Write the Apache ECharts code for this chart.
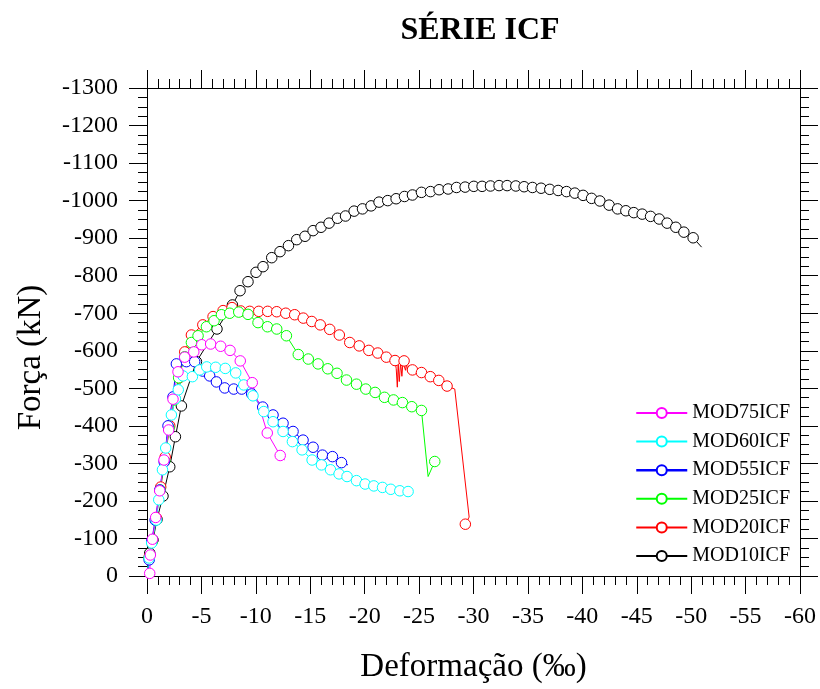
<!DOCTYPE html>
<html>
<head>
<meta charset="utf-8">
<script src="https://cdn.jsdelivr.net/npm/echarts@6/dist/echarts.min.js"></script>
<style>
  html, body { margin: 0; padding: 0; background: #fff; }
  #chart { width: 820px; height: 689px; }
</style>
</head>
<body>
<div id="chart"></div>
<script>
// Deformação (‰) x Força (kN) — pares [deformação, força]
const mod10icf = [[0,0],[-0.25,-61],[-0.55,-96],[-0.92,-151],[-1.47,-213],[-2.09,-291],[-2.61,-371],[-3.16,-453],[-4.54,-571],[-6.43,-658],[-7.85,-722],[-8.55,-760],[-9.28,-784],[-10.02,-809],[-10.66,-824],[-11.46,-848],[-12.22,-864],[-13.0,-880],[-13.76,-896],[-14.52,-905],[-15.26,-920],[-15.99,-929],[-16.73,-940],[-17.5,-953],[-18.24,-959],[-19.03,-972],[-19.8,-978],[-20.59,-986],[-21.32,-996],[-22.12,-1000],[-22.89,-1005],[-23.66,-1011],[-24.39,-1015],[-25.22,-1022],[-26.05,-1024],[-26.84,-1029],[-27.67,-1031],[-28.44,-1035],[-29.23,-1036],[-30.03,-1038],[-30.79,-1038],[-31.56,-1039],[-32.35,-1040],[-33.09,-1040],[-33.89,-1039],[-34.65,-1037],[-35.42,-1035],[-36.21,-1033],[-37.01,-1030],[-37.78,-1027],[-38.55,-1024],[-39.31,-1020],[-40.07,-1014],[-40.85,-1006],[-41.61,-999],[-42.46,-988],[-43.24,-978],[-44.0,-973],[-44.73,-968],[-45.5,-964],[-46.27,-958],[-47.06,-951],[-47.79,-940],[-48.59,-929],[-49.33,-916],[-50.18,-901],[-50.96,-876]];

const mod20icf = [[0,0],[-0.2,-51],[-0.48,-93],[-0.85,-155],[-1.26,-237],[-1.67,-317],[-2.09,-400],[-2.55,-474],[-2.96,-528],[-3.47,-597],[-4.08,-642],[-5.13,-669],[-6.07,-691],[-6.99,-707],[-7.81,-715],[-8.61,-706],[-9.44,-705],[-10.27,-705],[-11.09,-705],[-11.92,-704],[-12.75,-700],[-13.57,-696],[-14.36,-687],[-15.14,-678],[-15.92,-669],[-16.79,-657],[-17.67,-642],[-18.63,-622],[-19.5,-613],[-20.38,-601],[-21.2,-594],[-21.99,-583],[-22.79,-574],[-22.9,-552],[-23.0,-503],[-23.08,-565],[-23.18,-518],[-23.3,-568],[-23.42,-532],[-23.52,-570],[-23.62,-573],[-23.75,-548],[-23.85,-566],[-23.95,-545],[-24.05,-560],[-24.39,-549],[-25.22,-542],[-26.03,-531],[-26.81,-521],[-27.57,-506],[-28.28,-498],[-29.6,-157],[-29.25,-138]];

const mod25icf = [[0,0],[-0.2,-48],[-0.48,-91],[-0.8,-149],[-1.21,-229],[-1.63,-306],[-2.04,-394],[-2.5,-469],[-2.91,-528],[-3.47,-584],[-4.08,-622],[-4.69,-640],[-5.46,-664],[-6.16,-680],[-6.84,-696],[-7.6,-700],[-8.43,-703],[-9.28,-697],[-10.2,-675],[-11.07,-664],[-11.92,-658],[-12.81,-640],[-13.9,-590],[-14.82,-578],[-15.72,-565],[-16.61,-552],[-17.46,-540],[-18.33,-522],[-19.25,-511],[-20.1,-498],[-20.96,-489],[-21.82,-476],[-22.65,-469],[-23.47,-462],[-24.33,-451],[-25.22,-441],[-25.83,-265],[-26.44,-305]];

const mod55icf = [[0,0],[-0.2,-43],[-0.43,-93],[-0.75,-149],[-1.17,-229],[-1.58,-304],[-1.93,-400],[-2.39,-477],[-2.7,-565],[-3.62,-571],[-4.38,-571],[-5.12,-546],[-5.76,-533],[-6.38,-517],[-7.14,-501],[-7.97,-498],[-8.7,-498],[-9.62,-485],[-10.63,-450],[-11.58,-429],[-12.5,-407],[-13.42,-385],[-14.34,-362],[-15.26,-343],[-16.12,-322],[-17.04,-318],[-17.87,-302],[-18.47,-296]];

const mod60icf = [[0,0],[-0.2,-48],[-0.43,-88],[-0.86,-149],[-1.08,-203],[-1.42,-283],[-1.72,-341],[-2.24,-429],[-2.61,-472],[-2.87,-496],[-3.31,-533],[-4.17,-531],[-4.84,-549],[-5.49,-557],[-6.31,-556],[-7.19,-553],[-8.15,-541],[-8.89,-509],[-9.74,-480],[-10.73,-438],[-11.58,-411],[-12.5,-385],[-13.36,-358],[-14.25,-336],[-15.17,-309],[-16.03,-296],[-16.86,-283],[-17.65,-272],[-18.38,-265],[-19.25,-254],[-20.04,-245],[-20.84,-240],[-21.64,-236],[-22.4,-231],[-23.23,-227],[-23.99,-225]];

const mod75icf = [[0,0],[-0.25,-7],[-0.31,-56],[-0.5,-98],[-0.8,-156],[-1.17,-227],[-1.56,-309],[-1.99,-389],[-2.39,-471],[-2.85,-544],[-3.46,-583],[-4.3,-597],[-5.03,-616],[-5.85,-618],[-6.77,-612],[-7.63,-601],[-8.57,-573],[-9.67,-515],[-11.05,-381],[-12.24,-321],[-12.66,-309]];

// pontos da leitura contínua que não recebem marcador (índices)
const mod10semMarca = [0, 66];
const mod20semMarca = [0, 33, 34, 35, 36, 37, 38, 39, 41, 42, 43, 44, 50, 51];
const mod25semMarca = [0, 36];
const mod55semMarca = [0, 27];
const mod60semMarca = [0];
const mod75semMarca = [0, 20];

const nomes = ['MOD75ICF', 'MOD60ICF', 'MOD55ICF', 'MOD25ICF', 'MOD20ICF', 'MOD10ICF'];
const xTicks = { min: -60, max: 0, step: 5 };
const yTicks = { min: -1300, max: 0, step: 100 };

const FONT = '"Liberation Serif", "Times New Roman", serif';

function pontos(serie, semMarca) {
  return serie.map((p, i) => semMarca.indexOf(i) >= 0 ? { value: p, symbol: 'none' } : p);
}

function linha(nome, serie, semMarca, cor) {
  return {
    name: nome,
    type: 'line',
    data: pontos(serie, semMarca),
    xAxisIndex: 0,
    yAxisIndex: 0,
    symbol: 'circle',
    symbolSize: 10.5,
    showAllSymbol: true,
    lineStyle: { color: cor, width: 1 },
    itemStyle: { color: '#ffffff', borderColor: cor, borderWidth: 1 },
    emphasis: { disabled: true },
    animation: false
  };
}

function eixoX(pos, rotulos) {
  return {
    type: 'value', position: pos, min: xTicks.min, max: xTicks.max, interval: xTicks.step,
    inverse: true,
    axisLine: { onZero: false, lineStyle: { color: '#000', width: 1 } },
    axisTick: { show: true, inside: false, length: 18, lineStyle: { color: '#000', width: 1 } },
    minorTick: { show: true, splitNumber: 5, length: 9, lineStyle: { color: '#000', width: 1 } },
    axisLabel: { show: rotulos, margin: 29, fontFamily: FONT, fontSize: 24, color: '#000', formatter: v => String(v) },
    splitLine: { show: false }, minorSplitLine: { show: false }
  };
}

function eixoY(pos, rotulos) {
  return {
    type: 'value', position: pos, min: yTicks.min, max: yTicks.max, interval: yTicks.step,
    inverse: true,
    axisLine: { onZero: false, lineStyle: { color: '#000', width: 1 } },
    axisTick: { show: true, inside: false, length: 18, lineStyle: { color: '#000', width: 1 } },
    minorTick: { show: true, splitNumber: 4, length: 9, lineStyle: { color: '#000', width: 1 } },
    axisLabel: { show: rotulos, margin: 29, fontFamily: FONT, fontSize: 24, color: '#000', formatter: v => String(v) },
    splitLine: { show: false }, minorSplitLine: { show: false }
  };
}

const chart = echarts.init(document.getElementById('chart'), null, { renderer: 'canvas' });

chart.setOption({
  backgroundColor: '#fff',
  animation: false,
  title: {
    text: 'SÉRIE ICF',
    left: 475, top: 10, textAlign: 'center',
    textStyle: { fontFamily: FONT, fontSize: 32, fontWeight: 'bold', color: '#000', lineHeight: 32 }
  },
  grid: { left: 147, right: 20, top: 88, bottom: 113, containLabel: false, outerBoundsMode: 'none' },
  xAxis: [eixoX('bottom', true), eixoX('top', false)],
  yAxis: [eixoY('left', true), eixoY('right', false)],
  legend: {
    orient: 'vertical', left: 635, top: 403, padding: 0,
    itemWidth: 51, itemHeight: 12.5, itemGap: 8.6,
    selectedMode: false,
    textStyle: { fontFamily: FONT, fontSize: 20, color: '#000', lineHeight: 20 },
    data: [nomes[0], nomes[1], { name: nomes[2], lineStyle: { width: 2.5 } }, nomes[3], nomes[4], nomes[5]]
  },
  graphic: [
    { type: 'text', x: 31, y: 357.5, rotation: Math.PI / 2, silent: true,
      style: { text: 'Força (kN)', fontFamily: FONT, fontSize: 33, fill: '#000', align: 'center', verticalAlign: 'middle' } },
    { type: 'text', x: 473.5, y: 667, silent: true,
      style: { text: 'Deformação (‰)', fontFamily: FONT, fontSize: 33, fill: '#000', align: 'center', verticalAlign: 'middle' } }
  ],
  series: [
    linha(nomes[5], mod10icf, mod10semMarca, '#000000'),
    linha(nomes[4], mod20icf, mod20semMarca, '#ff0000'),
    linha(nomes[3], mod25icf, mod25semMarca, '#00ff00'),
    linha(nomes[2], mod55icf, mod55semMarca, '#0000ff'),
    linha(nomes[1], mod60icf, mod60semMarca, '#00ffff'),
    linha(nomes[0], mod75icf, mod75semMarca, '#ff00ff')
  ]
});
</script>
</body>
</html>
